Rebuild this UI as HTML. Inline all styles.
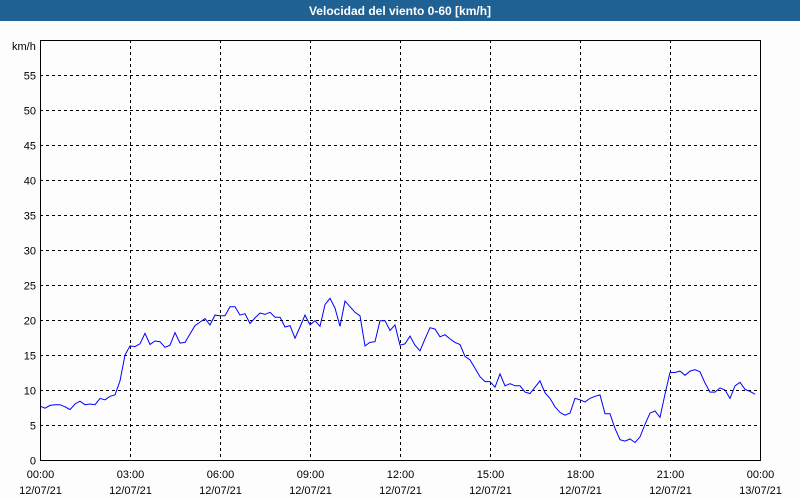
<!DOCTYPE html>
<html><head><meta charset="utf-8"><style>
html,body{margin:0;padding:0;background:#fff}
svg{display:block;font-family:"Liberation Sans","DejaVu Sans",sans-serif}
</style></head><body>
<svg width="800" height="500" xmlns="http://www.w3.org/2000/svg">
<rect x="0" y="0" width="800" height="500" fill="#fdfdfd"/>
<rect x="0" y="0" width="800" height="21" fill="#1f6193"/>
<text x="400" y="15" text-anchor="middle" fill="#fff" font-size="12" font-weight="bold">Velocidad del viento 0-60 [km/h]</text>
<text x="12" y="50" font-size="11" fill="#000">km/h</text>
<g id="grid"></g>
<g id="yticks"></g>
<g id="xticks"></g>
<polyline id="series" fill="none" stroke="#0000ff" stroke-width="1"/>
<rect x="40.5" y="40.5" width="720" height="420" fill="none" stroke="#000" stroke-width="1"/>
</svg>
<script>
const yTicks=[0,5,10,15,20,25,30,35,40,45,50,55];
const xTickLabels=["00:00","03:00","06:00","09:00","12:00","15:00","18:00","21:00","00:00"];
const xDateLabels=["12/07/21","12/07/21","12/07/21","12/07/21","12/07/21","12/07/21","12/07/21","12/07/21","13/07/21"];
const stepMinutes=10;
const speeds=[7.7,7.4,7.8,7.9,7.9,7.6,7.2,8.0,8.4,7.9,8.0,7.9,8.8,8.6,9.1,9.3,11.3,15.0,16.3,16.2,16.6,18.1,16.5,17.0,16.9,16.1,16.4,18.2,16.7,16.8,18.0,19.2,19.7,20.2,19.3,20.7,20.6,20.6,21.9,21.9,20.7,20.9,19.5,20.3,21.0,20.8,21.1,20.4,20.4,19.0,19.2,17.4,19.0,20.7,19.3,19.9,19.1,22.2,23.1,21.7,19.1,22.7,21.9,21.1,20.6,16.3,16.8,16.9,19.9,19.9,18.5,19.3,16.4,16.6,17.7,16.4,15.6,17.3,18.9,18.7,17.6,17.9,17.3,16.8,16.5,14.8,14.3,13.1,11.9,11.2,11.2,10.4,12.3,10.6,10.9,10.6,10.6,9.7,9.5,10.4,11.3,9.6,8.8,7.6,6.8,6.4,6.7,8.8,8.6,8.3,8.8,9.1,9.3,6.6,6.6,4.5,2.9,2.7,3.0,2.5,3.3,5.1,6.7,7.0,6.1,9.4,12.5,12.5,12.7,12.1,12.7,12.9,12.6,11.0,9.7,9.7,10.3,10.0,8.8,10.6,11.1,10.1,9.8,9.4];
const NS="http://www.w3.org/2000/svg";
const X0=40,X1=760,Y0=460,Y1=40,YMAX=60,HMAX=24;
function xs(h){return X0+(h/HMAX)*(X1-X0);}
function ys(v){return Y0-(v/YMAX)*(Y0-Y1);}
const grid=document.getElementById('grid'),yt=document.getElementById('yticks'),xt=document.getElementById('xticks');
yTicks.forEach(v=>{
  const y=Math.round(ys(v))+0.5;
  if(v>0){const l=document.createElementNS(NS,'line');
  
  
  l.setAttribute('x1',X0);l.setAttribute('x2',X1);l.setAttribute('y1',y);l.setAttribute('y2',y);
  l.setAttribute('stroke','#000');l.setAttribute('stroke-dasharray','3,3');grid.appendChild(l);}
  const t=document.createElementNS(NS,'text');
  
  
  t.setAttribute('x',36);t.setAttribute('y',y+4);t.setAttribute('text-anchor','end');t.setAttribute('font-size','11');
  t.textContent=v;yt.appendChild(t);
});
xTickLabels.forEach((lab,i)=>{
  const x=Math.round(xs(i*3))+0.5;
  if(i>0&&i<xTickLabels.length-1){const l=document.createElementNS(NS,'line');
  
  
  l.setAttribute('x1',x);l.setAttribute('x2',x);l.setAttribute('y1',Y1);l.setAttribute('y2',Y0);
  l.setAttribute('stroke','#000');l.setAttribute('stroke-dasharray','3,3');grid.appendChild(l);}
  const t=document.createElementNS(NS,'text');
  
  
  t.setAttribute('x',x);t.setAttribute('y',478);t.setAttribute('text-anchor','middle');t.setAttribute('font-size','11');
  t.textContent=lab;xt.appendChild(t);
  const d=document.createElementNS(NS,'text');
  
  
  d.setAttribute('x',x);d.setAttribute('y',494);d.setAttribute('text-anchor','middle');d.setAttribute('font-size','11');
  d.textContent=xDateLabels[i];xt.appendChild(d);
});
document.getElementById('series').setAttribute('points',speeds.map((v,i)=>xs(i*stepMinutes/60).toFixed(1)+','+ys(v).toFixed(1)).join(' '));
</script>
</body></html>
